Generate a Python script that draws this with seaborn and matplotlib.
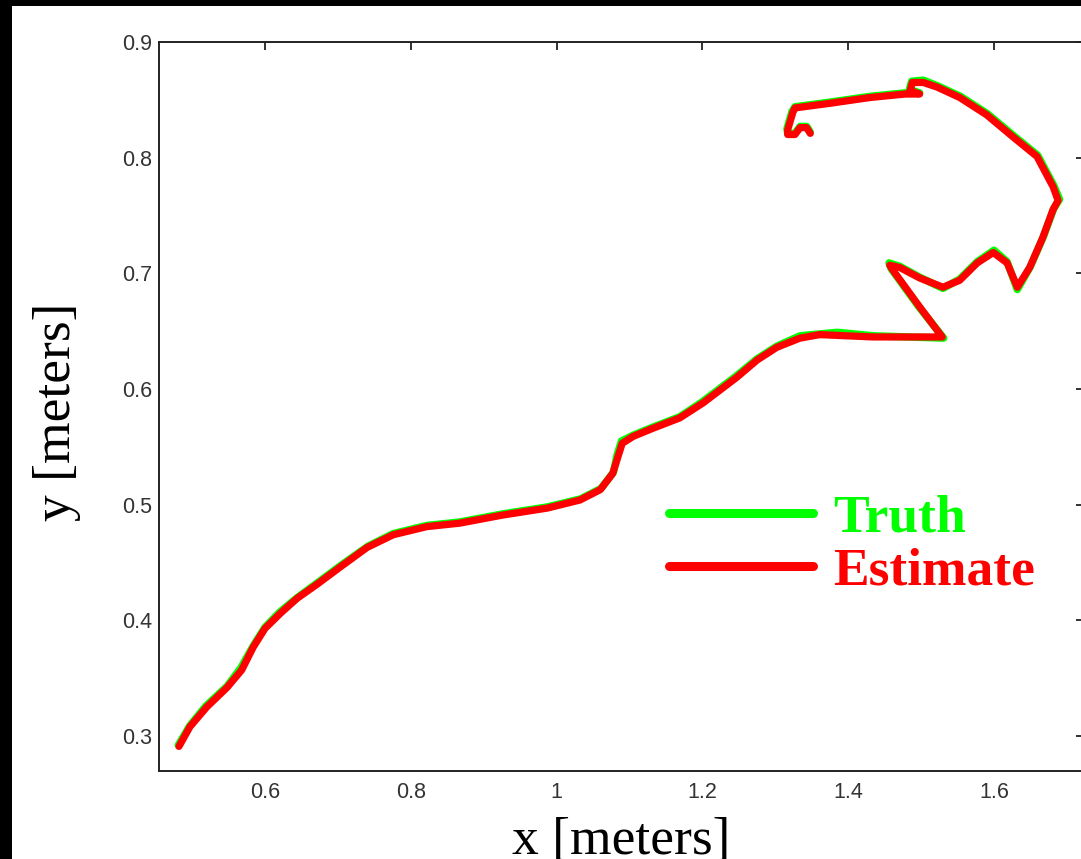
import matplotlib
matplotlib.use("Agg")
import matplotlib.pyplot as plt
import seaborn as sns
from matplotlib.lines import Line2D
from matplotlib.patches import Rectangle
from matplotlib.ticker import FixedLocator, FixedFormatter

# ---- data ----
est_x = [0.482, 0.497, 0.520, 0.548, 0.568, 0.584, 0.600, 0.621, 0.644, 0.671,
         0.703, 0.740, 0.776, 0.822, 0.867, 0.926, 0.987, 1.032, 1.060, 1.077,
         1.084, 1.090, 1.105, 1.132, 1.169, 1.201, 1.247, 1.275, 1.302, 1.334,
         1.361, 1.434, 1.529, 1.498, 1.461, 1.457, 1.471, 1.498, 1.530, 1.553,
         1.577, 1.599, 1.618, 1.632, 1.649, 1.667, 1.681, 1.688, 1.681, 1.659,
         1.626, 1.590, 1.553, 1.522, 1.503, 1.488, 1.485, 1.498, 1.478, 1.430,
         1.375, 1.327, 1.324, 1.317, 1.317, 1.327, 1.334, 1.343, 1.348]
est_y = [0.291, 0.308, 0.325, 0.342, 0.357, 0.377, 0.393, 0.406, 0.419, 0.431,
         0.446, 0.463, 0.474, 0.481, 0.484, 0.491, 0.497, 0.504, 0.513, 0.527,
         0.541, 0.553, 0.559, 0.566, 0.575, 0.588, 0.610, 0.625, 0.636, 0.644,
         0.647, 0.645, 0.645, 0.671, 0.703, 0.707, 0.705, 0.696, 0.688, 0.694,
         0.709, 0.718, 0.709, 0.688, 0.705, 0.731, 0.755, 0.763, 0.775, 0.801,
         0.818, 0.837, 0.852, 0.861, 0.865, 0.865, 0.858, 0.855, 0.855, 0.852,
         0.847, 0.843, 0.839, 0.824, 0.820, 0.820, 0.826, 0.826, 0.821]

truth_x = [0.481, 0.497, 0.519, 0.548, 0.567, 0.584, 0.600, 0.620, 0.645, 0.671,
           0.703, 0.741, 0.776, 0.822, 0.867, 0.926, 0.987, 1.033, 1.061, 1.078,
           1.083, 1.089, 1.105, 1.132, 1.169, 1.200, 1.246, 1.275, 1.302, 1.334,
           1.385, 1.434, 1.531, 1.497, 1.459, 1.456, 1.471, 1.497, 1.530, 1.553,
           1.577, 1.600, 1.618, 1.632, 1.650, 1.668, 1.682, 1.690, 1.682, 1.660,
           1.627, 1.591, 1.554, 1.523, 1.503, 1.487, 1.484, 1.498, 1.478, 1.430,
           1.375, 1.327, 1.323, 1.316, 1.317, 1.327, 1.334, 1.343, 1.348]
truth_y = [0.292, 0.309, 0.326, 0.343, 0.359, 0.378, 0.394, 0.407, 0.420, 0.432,
           0.447, 0.464, 0.475, 0.482, 0.485, 0.492, 0.498, 0.505, 0.514, 0.528,
           0.543, 0.555, 0.560, 0.567, 0.576, 0.589, 0.611, 0.626, 0.637, 0.646,
           0.649, 0.646, 0.644, 0.671, 0.704, 0.709, 0.706, 0.697, 0.687, 0.695,
           0.710, 0.720, 0.710, 0.686, 0.706, 0.732, 0.756, 0.764, 0.776, 0.802,
           0.819, 0.838, 0.853, 0.862, 0.867, 0.866, 0.859, 0.856, 0.856, 0.853,
           0.848, 0.844, 0.840, 0.825, 0.821, 0.821, 0.827, 0.827, 0.822]

x_ticks = [0.6, 0.8, 1.0, 1.2, 1.4, 1.6]
x_tick_labels = ["0.6", "0.8", "1", "1.2", "1.4", "1.6"]
y_ticks = [0.3, 0.4, 0.5, 0.6, 0.7, 0.8, 0.9]
y_tick_labels = ["0.3", "0.4", "0.5", "0.6", "0.7", "0.8", "0.9"]
series_names = ["Truth", "Estimate"]
series_colors = ["#00ff00", "#ff0000"]

# ---- figure ----
sns.set_theme(style="white")
plt.rcParams['font.family'] = ['Liberation Sans', 'DejaVu Sans']

W, H = 1081, 859
fig = plt.figure(figsize=(W / 100, H / 100), dpi=100)
fig.patch.set_facecolor("black")
fig.patches.append(Rectangle((12 / W, 0), 1 - 12 / W, 1 - 6 / H,
                             transform=fig.transFigure, facecolor="white",
                             edgecolor="none", zorder=-10))

ax = fig.add_axes([159 / W, 88.3 / H, (1084 - 159) / W, (817 - 88.3) / H])
ax.set_zorder(1)
ax.set_facecolor("white")

sns.lineplot(x=truth_x, y=truth_y, sort=False, estimator=None, ax=ax,
             color=series_colors[0], linewidth=5.4, solid_joinstyle="round",
             solid_capstyle="round")
sns.lineplot(x=est_x, y=est_y, sort=False, estimator=None, ax=ax,
             color=series_colors[1], linewidth=5.2, solid_joinstyle="round",
             solid_capstyle="round")

ax.set_xlim(0.4546, 1.7235)
ax.set_ylim(0.27, 0.9)

ax.xaxis.set_major_locator(FixedLocator(x_ticks))
ax.xaxis.set_major_formatter(FixedFormatter(x_tick_labels))
ax.yaxis.set_major_locator(FixedLocator(y_ticks))
ax.yaxis.set_major_formatter(FixedFormatter(y_tick_labels))

for s in ax.spines.values():
    s.set_visible(True)
    s.set_color("#222222")
    s.set_linewidth(1.4)

ax.tick_params(axis="both", which="major", direction="in", length=5.5,
               width=1.3, color="#222222", top=True, right=True,
               labelsize=15.5, labelcolor="#333333")
ax.tick_params(axis="x", pad=8)
ax.tick_params(axis="y", pad=5)

serif = ['Liberation Serif', 'DejaVu Serif']
ax.set_xlabel("x [meters]", fontsize=38.5, family=serif, color="black")
ax.set_ylabel("y [meters]", fontsize=38.5, family=serif, color="black")
ax.xaxis.set_label_coords(0.5, -0.063)
ax.yaxis.set_label_coords(-0.084, 0.493)

handles = [Line2D([], [], color=c, linewidth=6.5) for c in series_colors]
leg = ax.legend(handles, series_names, loc="upper left",
                bbox_to_anchor=(0.551, 0.379), frameon=False,
                prop={'family': serif, 'weight': 'bold', 'size': 38.5},
                handlelength=2.7, handletextpad=0.38, labelspacing=0.08,
                borderpad=0, borderaxespad=0)
for t, c in zip(leg.get_texts(), series_colors):
    t.set_color(c)

fig.savefig("out.png", dpi=100, facecolor=fig.get_facecolor())
